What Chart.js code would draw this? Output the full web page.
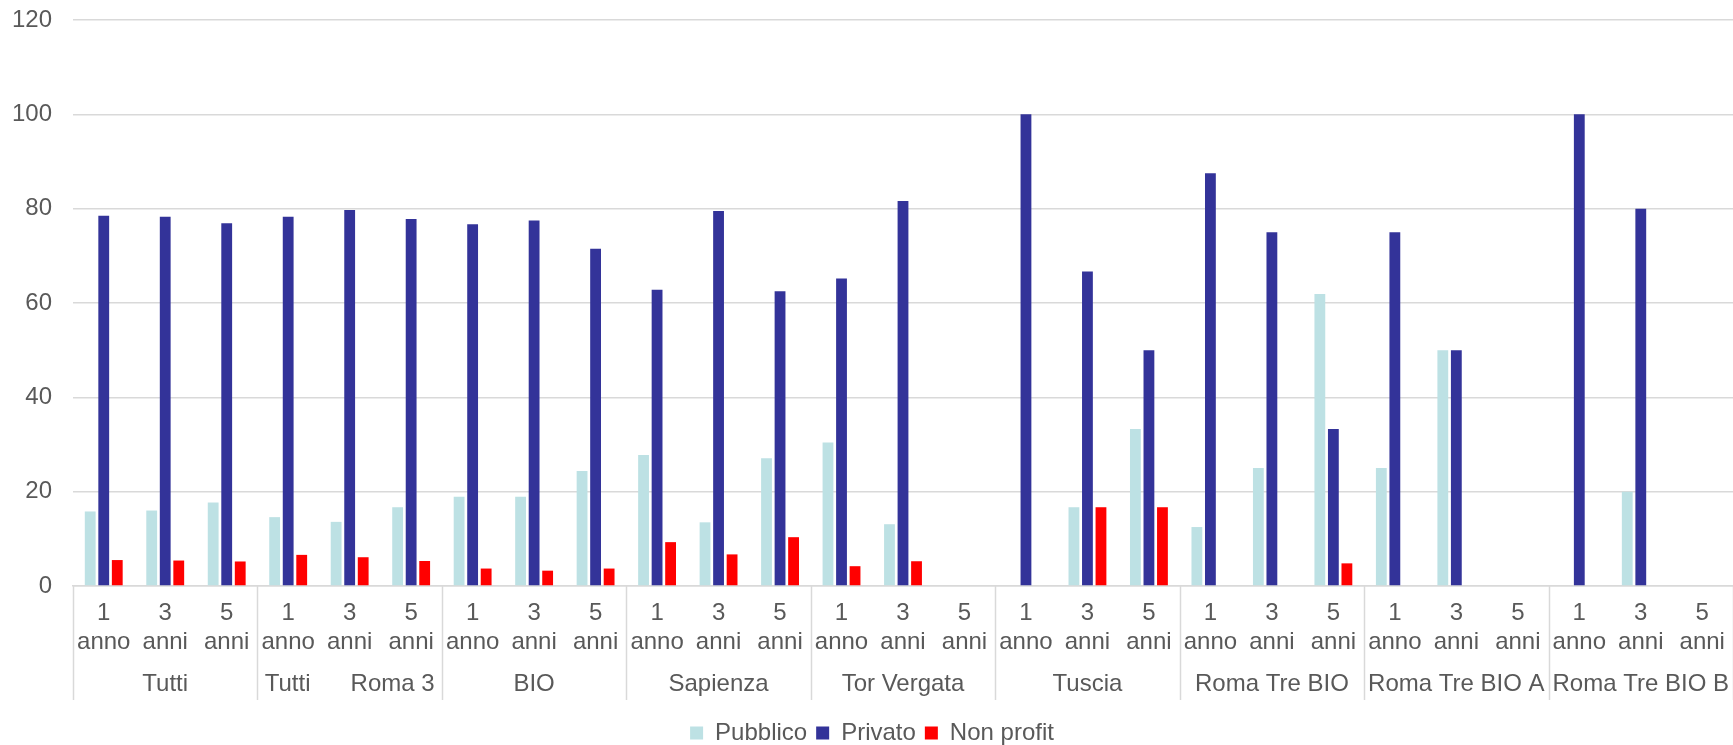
<!DOCTYPE html>
<html>
<head>
<meta charset="utf-8">
<script src="https://cdn.jsdelivr.net/npm/chart.js@4/dist/chart.umd.min.js"></script>
<style>
html,body{margin:0;padding:0;background:#fff;overflow:hidden;}
#wrap{width:1733px;height:745px;position:relative;}
</style>
</head>
<body>
<div id="wrap"><canvas id="c"></canvas></div>
<script>
const groups = ["Tutti", "Tutti      Roma 3", "BIO", "Sapienza", "Tor Vergata", "Tuscia", "Roma Tre BIO", "Roma Tre BIO A", "Roma Tre BIO B"];
const periods = [["1", "anno"], ["3", "anni"], ["5", "anni"]];
const yTicks = [0, 20, 40, 60, 80, 100, 120];

const pubblico  = [15.8, 16.0, 17.7, 14.6, 13.6, 16.7, 18.9, 18.9, 24.4, 27.8, 13.5, 27.1, 30.4, 13.1, null, 0, 16.7, 33.3, 12.5, 25, 61.9, 25, 50, null, 0, 20, null];
const privato   = [78.5, 78.3, 76.9, 78.3, 79.7, 77.8, 76.7, 77.5, 71.5, 62.8, 79.5, 62.5, 65.2, 81.6, null, 100, 66.7, 50, 87.5, 75, 33.3, 75, 50, null, 100, 80, null];
const nonProfit = [5.5, 5.4, 5.2, 6.6, 6.1, 5.3, 3.7, 3.25, 3.7, 9.3, 6.7, 10.35, 4.2, 5.25, null, 0, 16.7, 16.7, 0, 0, 4.8, 0, 0, null, 0, 0, null];

const labels = [];
groups.forEach(() => periods.forEach(p => labels.push(p)));

const GRID = '#d9d9d9';
const TXT = '#595959';
const FONT = {family: "'Liberation Sans', Arial, sans-serif", size: 24};

const separators = {
  id: 'separators',
  afterDraw(chart) {
    const x = chart.scales.x, x2 = chart.scales.x2;
    const ctx = chart.ctx;
    const n = labels.length;
    const catW = x.width / n;
    const yEnd = x2.top + x2.options.ticks.padding + 30;
    ctx.save();
    ctx.strokeStyle = GRID;
    ctx.lineWidth = 1.5;
    for (let g = 0; g <= groups.length; g++) {
      let px;
      if (g < groups.length) px = x.getPixelForValue(g * 3) - catW / 2;
      else px = x.getPixelForValue(n - 1) + catW / 2;
      px = Math.round(px) + 0.5;
      ctx.beginPath();
      ctx.moveTo(px, chart.chartArea.bottom);
      ctx.lineTo(px, yEnd);
      ctx.stroke();
    }
    ctx.restore();
  }
};

function noSidePad(axis) { axis.paddingLeft = 0; axis.paddingRight = 0; }

new Chart(document.getElementById('c'), {
  type: 'bar',
  data: {
    labels: labels,
    datasets: [
      {label: 'Pubblico', data: pubblico, backgroundColor: '#bde1e4', borderWidth: 0},
      {label: 'Privato', data: privato, backgroundColor: '#333399', borderWidth: 0},
      {label: 'Non profit', data: nonProfit, backgroundColor: '#ff0000', borderWidth: 0}
    ]
  },
  options: {
    responsive: true,
    maintainAspectRatio: false,
    animation: false,
    layout: {padding: {left: 11, right: 0, top: 20, bottom: -10}},
    datasets: {bar: {categoryPercentage: 0.66, barPercentage: 0.8}},
    plugins: {
      legend: {
        position: 'bottom',
        labels: {color: TXT, font: FONT, boxWidth: 13, boxHeight: 13, padding: 9}
      },
      tooltip: {enabled: false}
    },
    scales: {
      x: {
        type: 'category',
        offset: true,
        grid: {display: false, drawTicks: false},
        border: {display: true, color: GRID, width: 1.5},
        ticks: {color: TXT, font: FONT, padding: 13, maxRotation: 0, autoSkip: false},
        afterFit(axis) { noSidePad(axis); axis.height = 80; }
      },
      x2: {
        type: 'category',
        position: 'bottom',
        labels: groups,
        offset: true,
        grid: {display: false, drawTicks: false},
        border: {display: false},
        ticks: {color: TXT, font: FONT, padding: 4, maxRotation: 0, autoSkip: false},
        afterFit(axis) { noSidePad(axis); axis.height = 46; }
      },
      y: {
        min: 0,
        max: 120,
        afterBuildTicks(axis) { axis.ticks = yTicks.map(v => ({value: v})); },
        grid: {color: GRID, lineWidth: 1.5, drawTicks: false},
        border: {display: false},
        ticks: {color: TXT, font: FONT, padding: 21},
        afterFit(axis) { axis.width = 62; axis.paddingTop = 0; axis.paddingBottom = 0; }
      }
    }
  },
  plugins: [separators]
});
</script>
</body>
</html>
